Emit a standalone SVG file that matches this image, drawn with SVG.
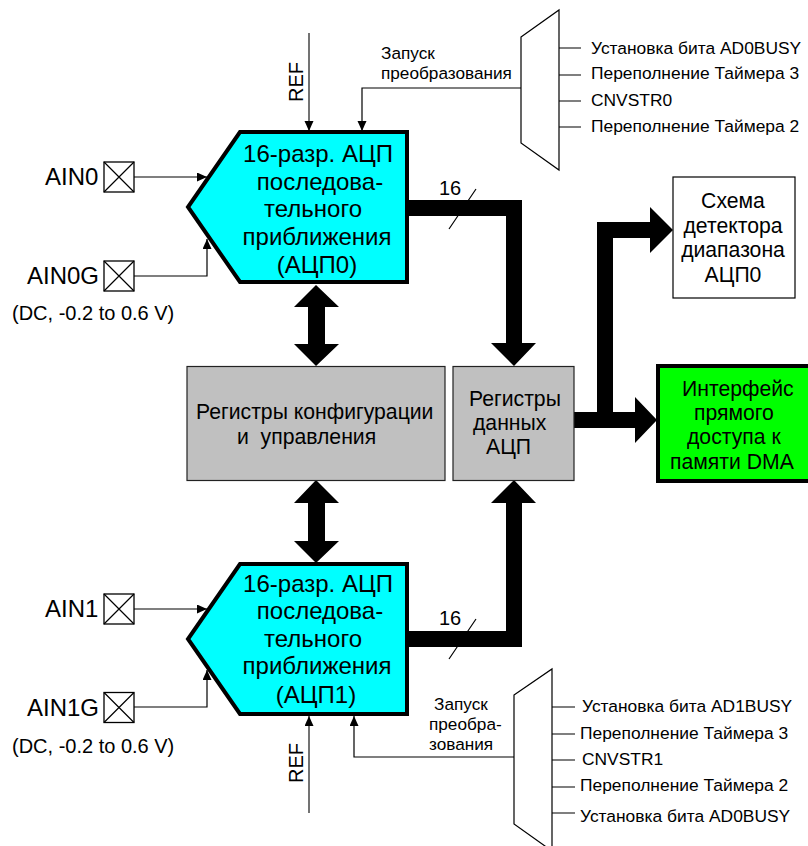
<svg xmlns="http://www.w3.org/2000/svg" width="808" height="846" viewBox="0 0 808 846">
<style>
text{font-family:"Liberation Sans",Arial,sans-serif;fill:#000}
.h{font-size:24px;text-anchor:middle}
.b{font-size:21.2px}
.p{font-size:24px}
.d{font-size:20px}
.m{font-size:17.4px}
.s{font-size:17.2px}
.n{font-size:20px}
.hex{fill:#0ff;stroke:#000;stroke-width:4}
.pin{fill:#fff;stroke:#000;stroke-width:1.3}
.thin{fill:none;stroke:#000;stroke-width:1.2}
.ref{fill:none;stroke:#444;stroke-width:1.5}
.mux{fill:#fff;stroke:#000;stroke-width:1.2}
</style>
<defs>
<marker id="a" markerUnits="userSpaceOnUse" markerWidth="12" markerHeight="12" refX="10" refY="4.5" orient="auto"><path d="M0 0L10 4.5L0 9Z" fill="#000"/></marker>
<g id="x"><rect class="pin" width="30" height="30"/><path class="thin" d="M0 0L30 30M30 0L0 30"/></g>
</defs>
<g id="connectors">
<path class="ref" d="M309 33V131" marker-end="url(#a)"/>
<path class="thin" d="M521 88H362V131" marker-end="url(#a)"/>
<path class="thin" d="M134 177H207" marker-end="url(#a)"/>
<path class="thin" d="M134 276H207V239" marker-end="url(#a)"/>
<path class="thin" d="M559 48H581M559 75H581M559 101H581M559 127H581"/>
<path class="thin" d="M134 609H207" marker-end="url(#a)"/>
<path class="thin" d="M134 707H207V670" marker-end="url(#a)"/>
<path class="ref" d="M309 813V716" marker-end="url(#a)"/>
<path class="thin" d="M514 757H354V716" marker-end="url(#a)"/>
<path class="thin" d="M552 707H575M552 734H575M552 760H575M552 787H575M552 813H575"/>
<path d="M407 200H522V343H536L514 366L491 343H506V216H407Z"/>
<path d="M407 631H506V503H491L514 480L536 503H522V647H407Z"/>
<path d="M316 285L339 307H325V344H339L316 366L294 344H308V307H294Z"/>
<path d="M316 480L339 503H325V541H339L316 563L294 541H308V503H294Z"/>
<path d="M574 412H597V222H650V207L673 230L650 253V238H613V412H635V397L657 420L635 443V428H574Z"/>
<path class="thin" d="M476 189L449 229M476 619L449 659"/>
</g>
<g id="adc0"><path class="hex" d="M240 132H407V282H240L188 207Z"/>
<text class="h" x="318" y="162">16-разр. АЦП</text><text class="h" x="320" y="190">последова-</text><text class="h" x="313" y="217">тельного</text><text class="h" x="317" y="245">приближения</text><text class="h" x="317" y="273">(АЦП0)</text></g>
<g id="adc1"><path class="hex" d="M240 564H407V714H240L188 639Z"/>
<text class="h" x="318" y="592">16-разр. АЦП</text><text class="h" x="320" y="619">последова-</text><text class="h" x="313" y="647">тельного</text><text class="h" x="317" y="674">приближения</text><text class="h" x="316" y="703">(АЦП1)</text></g>
<g id="pin-ain0"><use href="#x" x="104" y="162"/><text class="p" x="45" y="185">AIN0</text></g>
<g id="pin-ain0g"><use href="#x" x="104" y="261"/><text class="p" x="27" y="284">AIN0G</text><text class="d" x="12" y="320">(DC, -0.2 to 0.6 V)</text></g>
<g id="pin-ain1"><use href="#x" x="104" y="594"/><text class="p" x="45" y="617">AIN1</text></g>
<g id="pin-ain1g"><use href="#x" x="104" y="692.500"/><text class="p" x="27" y="716">AIN1G</text><text class="d" x="12" y="753">(DC, -0.2 to 0.6 V)</text></g>
<g id="ref0"><text class="n" transform="translate(302.500 102) rotate(-90)">REF</text></g>
<g id="ref1"><text class="n" transform="translate(302.500 783) rotate(-90)">REF</text></g>
<g id="start0"><text class="s" x="381" y="59">Запуск</text><text class="s" x="381" y="79">преобразования</text></g>
<g id="start1"><text class="s" x="434" y="710">Запуск</text><text class="s" x="429" y="730">преобра-</text><text class="s" x="429" y="750">зования</text></g>
<g id="mux0"><path class="mux" d="M521 37L559 10V170L521 143Z"/>
<text class="m" x="591" y="54">Установка бита AD0BUSY</text><text class="m" x="591" y="79">Переполнение Таймера 3</text><text class="m" x="591" y="106">CNVSTR0</text><text class="m" x="591" y="132">Переполнение Таймера 2</text></g>
<g id="mux1"><path class="mux" d="M514 695L552 669V851L514 824Z"/>
<text class="m" x="582" y="712">Установка бита AD1BUSY</text><text class="m" x="580" y="739">Переполнение Таймера 3</text><text class="m" x="582" y="765">CNVSTR1</text><text class="m" x="580" y="791">Переполнение Таймера 2</text><text class="m" x="580" y="822">Установка бита AD0BUSY</text></g>
<g id="config"><rect x="187" y="366.500" width="258" height="114" fill="#c0c0c0" stroke="#222" stroke-width="1.2"/>
<text class="b" x="196" y="419">Регистры конфигурации</text><text class="b" x="237" y="444" xml:space="preserve">и  управления</text></g>
<g id="data"><rect x="453" y="366.500" width="121" height="114" fill="#c0c0c0" stroke="#222" stroke-width="1.2"/>
<text class="b" x="469" y="406">Регистры</text><text class="b" x="473" y="430">данных</text><text class="b" x="486" y="454">АЦП</text></g>
<g id="range"><rect x="673" y="177" width="122" height="121" fill="#fff" stroke="#000" stroke-width="1.2"/>
<text class="b" x="733" y="208" text-anchor="middle">Схема</text><text class="b" x="733" y="233" text-anchor="middle">детектора</text><text class="b" x="733" y="257" text-anchor="middle">диапазона</text><text class="b" x="733" y="282" text-anchor="middle">АЦП0</text></g>
<g id="dma"><rect x="658" y="366" width="152" height="115" fill="#0f0" stroke="#000" stroke-width="4"/>
<text class="b" x="682" y="396">Интерфейс</text><text class="b" x="694" y="420">прямого</text><text class="b" x="687" y="444">доступа к</text><text class="b" x="670" y="469">памяти DMA</text></g>
<g id="bus-labels"><text class="n" x="439" y="195">16</text><text class="n" x="439" y="625">16</text></g>
</svg>
